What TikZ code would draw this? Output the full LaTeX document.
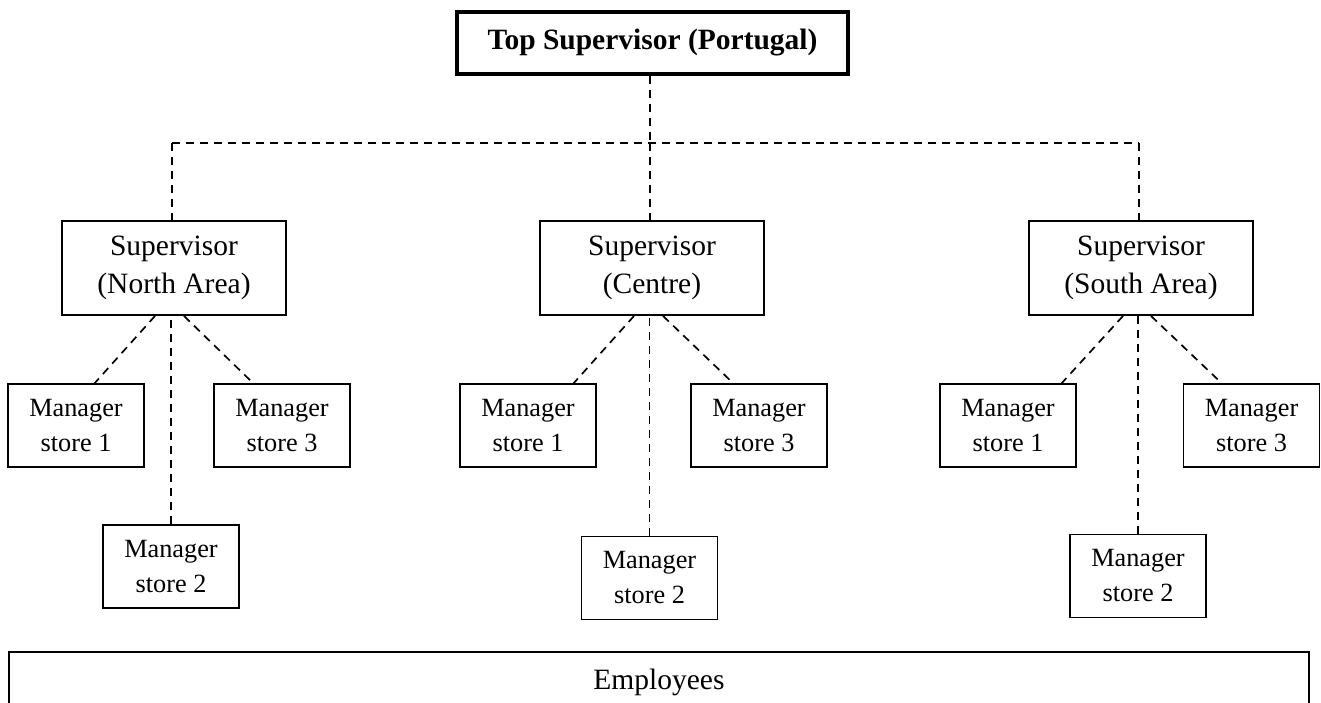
\documentclass[tikz,border=0pt]{standalone}
\usepackage{fontspec}
\setmainfont{Liberation Serif}
\begin{document}
\begin{tikzpicture}[x=1pt,y=-1pt,
  topbox/.style={draw,line width=3.4pt,inner sep=0pt,minimum width=391pt,minimum height=62pt,font=\fontsize{29.5}{36}\selectfont\bfseries},
  supbox/.style={draw,line width=1.9pt,inner sep=0pt,minimum width=224pt,minimum height=94pt,align=center,font=\fontsize{29.5}{38.5}\selectfont},
  mgrbox/.style={draw,line width=1.9pt,inner sep=0pt,minimum width=136pt,minimum height=83pt,align=center,font=\fontsize{26.3}{35}\selectfont},
  empbox/.style={draw,line width=1.9pt,inner sep=0pt,minimum width=1300pt,minimum height=64pt},
  emplabel/.style={font=\fontsize{29.5}{36}\selectfont},
  link/.style={line width=1.7pt,dash pattern=on 8pt off 6pt}]
\clip (0,0) rectangle (1321,702);
\fill[white] (0,0) rectangle (1321,702);
% nodes
\node[topbox] (top) at (652.5,43) {Top Supervisor (Portugal)};
\node[supbox] (supL) at (174,268) {Supervisor\\(North Area)};
\node[supbox] (supC) at (652,268) {Supervisor\\(Centre)};
\node[supbox] (supR) at (1141,268) {Supervisor\\(South Area)};
\node[mgrbox] (mL1) at (76,425.5) {Manager\\store 1};
\node[mgrbox] (mL3) at (282,425.5) {Manager\\store 3};
\node[mgrbox] (mL2) at (171,566.5) {Manager\\store 2};
\node[mgrbox] (mC1) at (528,425.5) {Manager\\store 1};
\node[mgrbox] (mC3) at (759,425.5) {Manager\\store 3};
\node[mgrbox] (mC2) at (649.5,578) {Manager\\store 2};
\node[mgrbox] (mR1) at (1008,425.5) {Manager\\store 1};
\node[mgrbox] (mR3) at (1251.5,425.5) {Manager\\store 3};
\node[mgrbox] (mR2) at (1138,576) {Manager\\store 2};
\node[empbox] (emp) at (659,684) {};
\node[emplabel] (emptext) at (659,682) {Employees};
% bus
\coordinate (busL) at (172,143);
\coordinate (busR) at (1139,143);
\coordinate (busC) at (650,143);
\draw[link] (busL) -- (busR);
\draw[link] ([xshift=-2.5pt]top.south) -- (busC);
\draw[link] (busL) -- (busL |- supL.north);
\draw[link] (busC) -- (busC |- supC.north);
\draw[link] (busR) -- (busR |- supR.north);
% north
\draw[link] ([xshift=-19pt]supL.south) -- ([xshift=17pt,yshift=-2pt]mL1.north);
\draw[link] ([xshift=10pt]supL.south) -- ([xshift=-29pt]mL3.north);
\draw[link] (mL2.north) -- (mL2.north |- supL.south);
% centre
\draw[link] ([xshift=-18pt]supC.south) -- ([xshift=44pt,yshift=-2pt]mC1.north);
\draw[link] ([xshift=11pt]supC.south) -- ([xshift=-26pt]mC3.north);
\draw[link] (mC2.north) -- (mC2.north |- supC.south);
% south
\draw[link] ([xshift=-18pt]supR.south) -- ([xshift=52pt,yshift=-2pt]mR1.north);
\draw[link] ([xshift=10pt]supR.south) -- ([xshift=-30pt]mR3.north);
\draw[link] (mR2.north) -- (mR2.north |- supR.south);
\end{tikzpicture}
\end{document}
